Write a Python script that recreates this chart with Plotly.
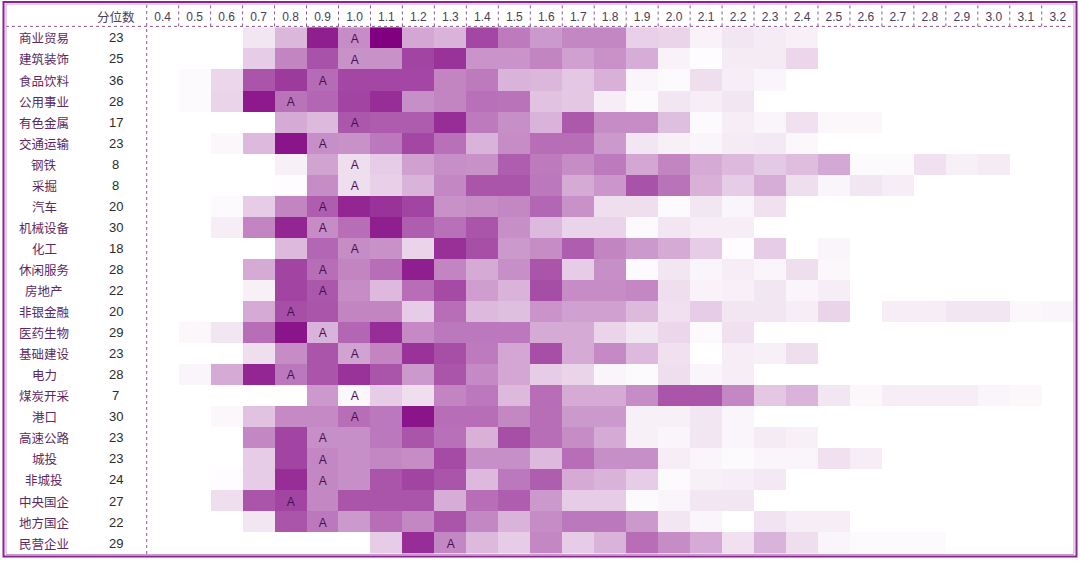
import plotly.graph_objects as go

industries = ["商业贸易", "建筑装饰", "食品饮料", "公用事业", "有色金属", "交通运输", "钢铁", "采掘",
              "汽车", "机械设备", "化工", "休闲服务", "房地产", "非银金融", "医药生物", "基础建设",
              "电力", "煤炭开采", "港口", "高速公路", "城投", "非城投", "中央国企", "地方国企", "民营企业"]
counts = [23, 25, 36, 28, 17, 23, 8, 8, 20, 30, 18, 28, 22, 20, 29, 23, 28, 7, 30, 23, 23, 24, 27, 22, 29]
quantiles = ["0.4", "0.5", "0.6", "0.7", "0.8", "0.9", "1.0", "1.1", "1.2", "1.3", "1.4", "1.5", "1.6",
             "1.7", "1.8", "1.9", "2.0", "2.1", "2.2", "2.3", "2.4", "2.5", "2.6", "2.7", "2.8", "2.9",
             "3.0", "3.1", "3.2"]
a_marks = ["1.0", "1.0", "0.9", "0.8", "1.0", "0.9", "1.0", "1.0", "0.9", "0.9", "1.0", "0.9", "0.9",
           "0.8", "0.9", "1.0", "0.8", "1.0", "1.0", "0.9", "0.9", "0.9", "0.8", "0.9", "1.3"]

# colour intensity per cell (0 = white, 100 = darkest purple)
r_shangye = [0, 0, 0, 10, 28, 88, 45, 100, 35, 30, 72, 52, 40, 47, 47, 18, 17, 5, 10, 8, 6, 0, 0, 0, 0, 0, 0, 0, 0]
r_jianzhu = [0, 0, 0, 20, 48, 68, 43, 43, 73, 80, 42, 42, 48, 37, 43, 32, 5, 1, 8, 8, 16, 0, 0, 0, 0, 0, 0, 0, 0]
r_shipin = [0, 2, 16, 67, 77, 58, 72, 72, 72, 48, 52, 30, 28, 22, 31, 4, 2, 13, 7, 4, 0, 0, 0, 0, 0, 0, 0, 0, 0]
r_gongyong = [0, 2, 17, 90, 55, 60, 73, 82, 44, 48, 56, 55, 24, 22, 7, 2, 10, 7, 10, 0, 0, 0, 0, 0, 0, 0, 0, 0, 0]
r_youse = [0, 0, 0, 0, 33, 27, 66, 64, 64, 82, 52, 44, 30, 65, 45, 45, 25, 2, 7, 4, 12, 3, 3, 0, 0, 0, 0, 0, 0]
r_jiaotong = [0, 0, 3, 27, 92, 44, 43, 53, 72, 56, 30, 45, 57, 57, 40, 10, 6, 4, 8, 9, 3, 0, 0, 0, 0, 0, 0, 0, 0]
r_gangtie = [0, 0, 0, 0, 6, 36, 13, 20, 37, 44, 43, 63, 52, 45, 52, 35, 48, 33, 27, 21, 26, 34, 2, 2, 12, 6, 8, 0, 0]
r_caijue = [0, 0, 0, 0, 1, 45, 13, 18, 30, 47, 67, 67, 53, 33, 41, 68, 55, 31, 20, 32, 13, 4, 10, 7, 0, 0, 0, 0, 0]
r_qiche = [0, 0, 2, 20, 48, 63, 85, 80, 73, 43, 45, 47, 60, 43, 13, 13, 2, 10, 4, 12, 0, 0, 0, 0, 0, 0, 0, 0, 0]
r_jixie = [0, 0, 7, 48, 85, 45, 57, 88, 63, 56, 67, 44, 27, 17, 17, 2, 10, 7, 7, 0, 0, 0, 0, 0, 0, 0, 0, 0, 0]
r_huagong = [0, 0, 0, 0, 27, 60, 45, 43, 17, 81, 69, 40, 45, 63, 48, 40, 33, 20, 1, 20, 0, 4, 0, 0, 0, 0, 0, 0, 0]
r_xiuxian = [0, 0, 0, 33, 73, 57, 48, 57, 88, 48, 33, 44, 67, 20, 44, 2, 10, 4, 7, 4, 13, 3, 0, 0, 0, 0, 0, 0, 0]
r_fangdichan = [0, 0, 0, 6, 73, 66, 45, 27, 57, 71, 38, 30, 70, 45, 45, 47, 13, 5, 6, 10, 4, 7, 0, 0, 0, 0, 0, 0, 0]
r_feiyin = [0, 0, 0, 33, 69, 67, 48, 48, 20, 57, 27, 25, 42, 37, 37, 27, 12, 20, 10, 10, 7, 17, 0, 7, 7, 10, 10, 3, 4]
r_yiyao = [0, 3, 10, 57, 92, 30, 60, 82, 46, 53, 53, 53, 33, 33, 17, 10, 16, 2, 12, 0, 0, 0, 0, 0, 0, 0, 0, 0, 0]
r_jichu = [0, 0, 0, 13, 45, 67, 36, 48, 80, 69, 52, 35, 69, 33, 46, 27, 12, 0, 7, 6, 13, 0, 0, 0, 0, 0, 0, 0, 0]
r_dianli = [0, 4, 33, 85, 53, 67, 80, 67, 40, 67, 46, 35, 20, 17, 4, 2, 13, 4, 7, 0, 0, 0, 0, 0, 0, 0, 0, 0, 0]
r_meitan = [0, 0, 0, 0, 0, 40, 3, 20, 13, 48, 53, 27, 57, 33, 33, 45, 67, 67, 47, 22, 30, 10, 3, 7, 7, 7, 4, 3, 0]
r_gangkou = [0, 0, 3, 24, 46, 46, 57, 53, 92, 57, 57, 47, 57, 40, 40, 6, 6, 10, 4, 0, 0, 0, 0, 0, 0, 0, 0, 0, 0]
r_gaosu = [0, 0, 0, 47, 73, 44, 44, 53, 67, 56, 31, 69, 57, 45, 33, 6, 4, 10, 4, 8, 6, 0, 0, 0, 0, 0, 0, 0, 0]
r_chengtou = [0, 0, 0, 20, 73, 47, 44, 47, 45, 71, 44, 44, 27, 57, 44, 44, 7, 4, 2, 4, 4, 12, 7, 0, 0, 0, 0, 0, 0]
r_feichengtou = [0, 0, 1, 20, 82, 47, 44, 67, 73, 67, 27, 53, 63, 33, 30, 20, 2, 6, 7, 9, 0, 0, 0, 0, 0, 0, 0, 0, 0]
r_zhongyang = [0, 0, 13, 67, 73, 47, 67, 67, 67, 32, 57, 63, 40, 20, 20, 2, 4, 10, 10, 0, 0, 0, 0, 0, 0, 0, 0, 0, 0]
r_difang = [0, 0, 0, 10, 67, 53, 40, 57, 47, 67, 47, 30, 45, 53, 53, 40, 10, 4, 0, 11, 7, 7, 0, 0, 0, 0, 0, 0, 0]
r_minying = [0, 0, 0, 0, 0, 0, 0, 20, 82, 47, 27, 20, 47, 20, 30, 57, 45, 33, 12, 30, 13, 4, 2, 2, 2, 0, 0, 0, 0]

z = [r_shangye, r_jianzhu, r_shipin, r_gongyong, r_youse, r_jiaotong, r_gangtie, r_caijue, r_qiche,
     r_jixie, r_huagong, r_xiuxian, r_fangdichan, r_feiyin, r_yiyao, r_jichu, r_dianli, r_meitan,
     r_gangkou, r_gaosu, r_chengtou, r_feichengtou, r_zhongyang, r_difang, r_minying]

text = [["A" if q == a else "" for q in quantiles] for a in a_marks]

W, H = 1080, 561
X0, X1 = 146.7, 1073.7     # heatmap pixel extent
Y0, Y1 = 26.4, 554.6
px = lambda v: v / W
py = lambda v: 1 - v / H

FONT = "Liberation Sans, Arial, Noto Sans CJK SC, sans-serif"
CJK = "Noto Sans CJK SC, sans-serif"
PURPLE = "#800080"
DASH_COLOR = "#8e5a91"

fig = go.Figure(go.Heatmap(
    z=z, x=quantiles, y=industries,
    zmin=0, zmax=100,
    colorscale=[[0, "#ffffff"], [1, PURPLE]],
    showscale=False,
    text=text, texttemplate="%{text}",
    textfont=dict(family=FONT, size=12, color="#4a0f52"),
    hoverongaps=False,
))

fig.update_layout(
    width=W, height=H,
    margin=dict(l=0, r=0, t=0, b=0),
    paper_bgcolor="white", plot_bgcolor="white",
    font=dict(family=FONT),
    xaxis=dict(domain=[px(X0), px(X1)], side="top", type="category",
               showgrid=False, zeroline=False, showline=False, ticks="",
               tickfont=dict(family=FONT, size=12, color="#4d3d55"), ticklabelstandoff=2),
    yaxis=dict(domain=[py(Y1), py(Y0)], autorange="reversed", type="category",
               showticklabels=False, showgrid=False, zeroline=False, showline=False, ticks=""),
    showlegend=False,
)

# row labels: industry names and counts
for name, c in zip(industries, counts):
    fig.add_annotation(x=px(44), y=name, xref="paper", yref="y", text=name, showarrow=False,
                       font=dict(family=CJK, size=12.5, color="#5b2a63"), xanchor="center")
    fig.add_annotation(x=px(115.5), y=name, xref="paper", yref="y", text=str(c), showarrow=False,
                       font=dict(family=FONT, size=13, color="#2b2b2b"), xanchor="center")

fig.add_annotation(x=px(115.5), y=py(16), xref="paper", yref="paper", text="分位数", showarrow=False,
                   font=dict(family=CJK, size=12.5, color="#4d3d55"), xanchor="center", yanchor="middle")

# dotted separators in the header row
for i in range(1, len(quantiles)):
    fig.add_shape(type="line", xref="x", yref="paper", x0=i - 0.5, x1=i - 0.5,
                  y0=py(Y0), y1=py(4), line=dict(color=DASH_COLOR, width=1, dash="dot"))
# vertical dotted line separating labels from heatmap
fig.add_shape(type="line", xref="paper", yref="paper", x0=px(X0), x1=px(X0), y0=py(554), y1=py(4),
              line=dict(color=DASH_COLOR, width=1, dash="dot"))
# horizontal dotted line under header
fig.add_shape(type="line", xref="paper", yref="paper", x0=px(6), x1=px(X1), y0=py(Y0), y1=py(Y0),
              line=dict(color=DASH_COLOR, width=1, dash="dot"))

# double purple frame
fig.add_shape(type="rect", xref="paper", yref="paper", x0=px(3.5), x1=px(1076.5), y0=py(556.5), y1=py(2),
              line=dict(color="#8a2290", width=2), fillcolor="rgba(0,0,0,0)")
fig.add_shape(type="rect", xref="paper", yref="paper", x0=px(6), x1=px(1074), y0=py(554.5), y1=py(4),
              line=dict(color="#c99bcd", width=1), fillcolor="rgba(0,0,0,0)")

fig.write_html("out.html", config={"displayModeBar": False, "staticPlot": True},
               post_script="document.body.style.margin='0';document.body.style.overflow='hidden';")
